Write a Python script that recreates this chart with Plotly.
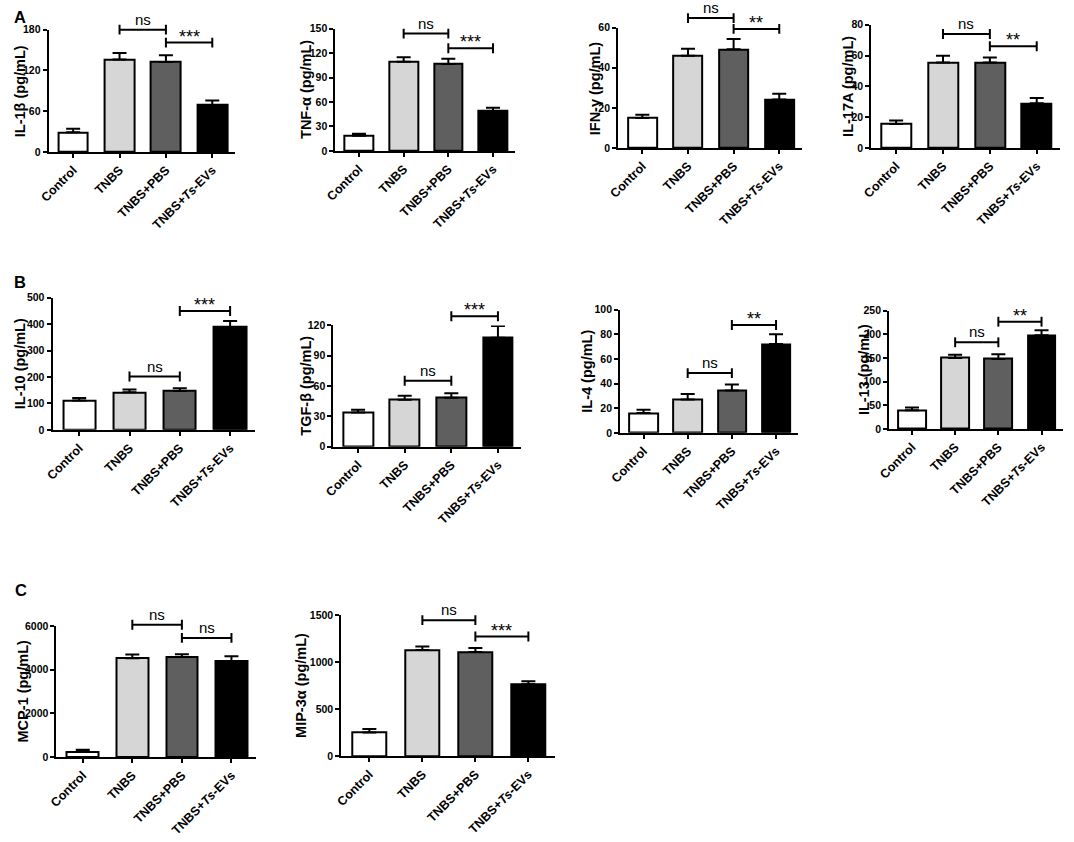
import plotly.graph_objects as go

# groups shared by every panel
GROUPS = ["Control", "TNBS", "TNBS+PBS", "TNBS+<i>Ts</i>-EVs"]
BAR_COLORS = ["#ffffff", "#d6d6d6", "#5f5f5f", "#000000"]

# panel A
IL1B_MEAN = [29, 136, 132.5, 69]
IL1B_SEM = [5, 9.5, 10, 6.5]
IL1B_TICKS = [0, 60, 120, 180]
IL1B_SIG = [(1, 2, 180, "ns"), (2, 3, 161, "***")]

TNFA_MEAN = [18.5, 109.5, 106.5, 49]
TNFA_SEM = [2.5, 5.5, 6.5, 4]
TNFA_TICKS = [0, 30, 60, 90, 120, 150]
TNFA_SIG = [(1, 2, 144, "ns"), (2, 3, 126, "***")]

IFNG_MEAN = [15, 46, 49.2, 24.2]
IFNG_SEM = [1.6, 3.5, 5.2, 2.9]
IFNG_TICKS = [0, 20, 40, 60]
IFNG_SIG = [(1, 2, 64.8, "ns"), (2, 3, 59.4, "**")]

IL17A_MEAN = [15.6, 55.4, 55.4, 29]
IL17A_SEM = [2.3, 4.5, 3.4, 3.4]
IL17A_TICKS = [0, 20, 40, 60, 80]
IL17A_SIG = [(1, 2, 74, "ns"), (2, 3, 66, "**")]

# panel B
IL10_MEAN = [111, 142, 147, 389]
IL10_SEM = [10, 11, 11, 23]
IL10_TICKS = [0, 100, 200, 300, 400, 500]
IL10_SIG = [(1, 2, 202, "ns"), (2, 3, 450, "***")]

TGFB_MEAN = [33.7, 46.4, 48.3, 107.7]
TGFB_SEM = [2.9, 3.9, 4.6, 11.7]
TGFB_TICKS = [0, 30, 60, 90, 120]
TGFB_SIG = [(1, 2, 65.2, "ns"), (2, 3, 129, "***")]

IL4_MEAN = [16, 27, 34.4, 72]
IL4_SEM = [2.7, 4.5, 4.8, 8]
IL4_TICKS = [0, 20, 40, 60, 80, 100]
IL4_SIG = [(1, 2, 48.5, "ns"), (2, 3, 87.5, "**")]

IL13_MEAN = [39.4, 149.9, 147.8, 198]
IL13_SEM = [6, 7, 9.7, 10.6]
IL13_TICKS = [0, 50, 100, 150, 200, 250]
IL13_SIG = [(1, 2, 183, "ns"), (2, 3, 226.5, "**")]

# panel C
MCP1_MEAN = [256, 4523, 4585, 4389]
MCP1_SEM = [80, 180, 120, 226]
MCP1_TICKS = [0, 2000, 4000, 6000]
MCP1_SIG = [(1, 2, 6060, "ns"), (2, 3, 5457, "ns")]

MIP3A_MEAN = [252, 1129, 1108, 766]
MIP3A_SEM = [38, 39, 42, 31]
MIP3A_TICKS = [0, 500, 1000, 1500]
MIP3A_SIG = [(1, 2, 1447, "ns"), (2, 3, 1273, "***")]

PANELS = [
    ("IL-1β (pg/mL)", IL1B_MEAN, IL1B_SEM, IL1B_TICKS, IL1B_SIG),
    ("TNF-α (pg/mL)", TNFA_MEAN, TNFA_SEM, TNFA_TICKS, TNFA_SIG),
    ("IFN-γ (pg/mL)", IFNG_MEAN, IFNG_SEM, IFNG_TICKS, IFNG_SIG),
    ("IL-17A (pg/mL)", IL17A_MEAN, IL17A_SEM, IL17A_TICKS, IL17A_SIG),
    ("IL-10 (pg/mL)", IL10_MEAN, IL10_SEM, IL10_TICKS, IL10_SIG),
    ("TGF-β (pg/mL)", TGFB_MEAN, TGFB_SEM, TGFB_TICKS, TGFB_SIG),
    ("IL-4 (pg/mL)", IL4_MEAN, IL4_SEM, IL4_TICKS, IL4_SIG),
    ("IL-13 (pg/mL)", IL13_MEAN, IL13_SEM, IL13_TICKS, IL13_SIG),
    ("MCP-1 (pg/mL)", MCP1_MEAN, MCP1_SEM, MCP1_TICKS, MCP1_SIG),
    ("MIP-3α (pg/mL)", MIP3A_MEAN, MIP3A_SEM, MIP3A_TICKS, MIP3A_SIG),
]

# pixel boxes of each plot area: left, right, top, bottom, y-title centre
BOXES = [
    (37, 226, 24, 148, 7.5),
    (327, 509, 23, 147, 297.5),
    (613, 799, 22, 144, 589),
    (869, 1060, 19, 144, 846),
    (41, 246, 296, 430, 7.5),
    (325, 515, 324, 447, 297),
    (615, 795, 308, 433, 582),
    (887, 1063, 309, 429, 861),
    (45, 247, 629, 762, 11),
    (333, 549, 618, 761, 291.5),
]

W, H = 1074, 842
FONT = "Arial, Liberation Sans, sans-serif"


def fx(px):
    return px / W


def fy(px):
    return 1 - px / H


fig = go.Figure()
shapes = []
annotations = []

for k, ((title, mean, sem, ticks, sig), box) in enumerate(zip(PANELS, BOXES), start=1):
    left, right, top, bottom, title_x = box
    sfx = "" if k == 1 else str(k)
    xa, ya = "x" + sfx, "y" + sfx

    fig.add_trace(go.Bar(
        x=GROUPS, y=mean, xaxis=xa, yaxis=ya, width=0.64,
        marker=dict(color=BAR_COLORS, line=dict(color="black", width=2)),
        error_y=dict(type="data", symmetric=False, array=sem, arrayminus=[0] * len(sem),
                     color="black", thickness=2, width=7),
        showlegend=False, hoverinfo="skip",
    ))

    axis_style = dict(showline=True, linecolor="black", linewidth=2, ticks="outside",
                      ticklen=4, tickwidth=2, tickcolor="black", showgrid=False,
                      zeroline=False, fixedrange=True)
    fig.layout["xaxis" + sfx] = dict(
        domain=[fx(left), fx(right)], anchor=ya, range=[-0.53, 3.5], tickangle=-45,
        tickfont=dict(family=FONT, size=12.5, color="black", weight="bold"), **axis_style)
    fig.layout["yaxis" + sfx] = dict(
        domain=[fy(bottom), fy(top)], anchor=xa, range=[0, ticks[-1]], tickvals=ticks,
        tickfont=dict(family=FONT, size=10.5, color="black", weight="bold"), **axis_style)

    # y title
    annotations.append(dict(
        text=title, xref="paper", yref="paper", x=fx(title_x), y=(fy(bottom) + fy(top)) / 2,
        textangle=-90, showarrow=False, xanchor="center", yanchor="middle", borderpad=0,
        font=dict(family=FONT, size=14.5, color="black", weight="bold")))

    # significance brackets
    half = 5 / (bottom - top)
    for i, j, level, label in sig:
        yl = level / ticks[-1]
        line = dict(type="line", xref=xa, yref=ya + " domain", line=dict(color="black", width=2))
        shapes.append(dict(line, x0=i, x1=j, y0=yl, y1=yl))
        shapes.append(dict(line, x0=i, x1=i, y0=yl - half, y1=yl + half))
        shapes.append(dict(line, x0=j, x1=j, y0=yl - half, y1=yl + half))
        star = "*" in label
        annotations.append(dict(
            text=label, xref=xa, yref=ya + " domain", x=(i + j) / 2, y=yl,
            showarrow=False, xanchor="center", yanchor="bottom",
            yshift=-6 if star else 0,
            font=dict(family=FONT, size=18 if star else 15, color="black")))

# panel letters
for letter, (lx, ly) in zip(["A", "B", "C"], [(1, 11), (1, 280), (2, 592)]):
    annotations.append(dict(
        text=letter, xref="paper", yref="paper", x=fx(lx), y=fy(ly), showarrow=False,
        xanchor="left", yanchor="middle", borderpad=0,
        font=dict(family=FONT, size=16.5, color="black", weight="bold")))

fig.update_layout(
    width=W, height=H, margin=dict(l=0, r=0, t=0, b=0),
    paper_bgcolor="white", plot_bgcolor="white",
    shapes=shapes, annotations=annotations, bargap=0,
)

fig.write_html("out.html", config={"displayModeBar": False},
               post_script="document.body.style.margin='0';")
